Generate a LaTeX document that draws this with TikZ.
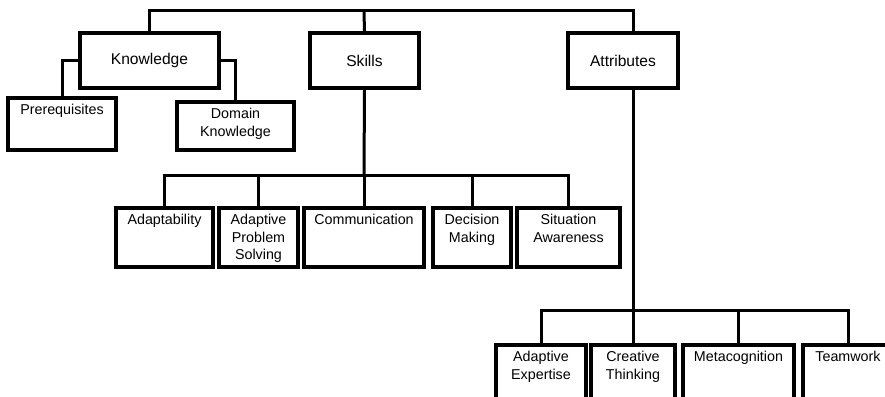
\documentclass[tikz,border=0pt]{standalone}
\usepackage{fontspec}
\setmainfont{Liberation Sans}
\begin{document}
\begin{tikzpicture}[x=1pt, y=-1pt,
  cell/.style={draw, line width=3.8pt, outer sep=0pt, inner sep=0pt, anchor=north west},
  head/.style={cell, minimum height=55pt, font=\fontsize{15.6}{18}\selectfont},
  tag/.style={anchor=north, align=center, inner sep=0pt, yshift=-6pt, font=\fontsize{14.3}{17.5}\selectfont},
  link/.style={line width=3pt}]
\fill[white, use as bounding box] (0,0) rectangle (885,396);
\clip (0,0) rectangle (885,396);

% top level
\node[head, minimum width=139pt] (kno) at (80,33) {Knowledge};
\node[head, minimum width=109pt] (skl) at (310,33) {Skills};
\node[head, minimum width=110pt] (att) at (568,33) {Attributes};

% knowledge
\node[cell, minimum width=108pt, minimum height=52pt, label={[tag]north:Prerequisites}] (prq) at (8,98) {};
\node[cell, minimum width=117pt, minimum height=48pt, label={[tag]north:Domain\\Knowledge}] (dom) at (177,102) {};

% skills
\node[cell, minimum width=97pt, minimum height=59pt, label={[tag]north:Adaptability}] (ada) at (116,208) {};
\node[cell, minimum width=79pt, minimum height=59pt, label={[tag]north:Adaptive\\Problem\\Solving}] (aps) at (219,208) {};
\node[cell, minimum width=120pt, minimum height=59pt, label={[tag]north:Communication}] (com) at (304,208) {};
\node[cell, minimum width=78pt, minimum height=59pt, label={[tag]north:Decision\\Making}] (dec) at (433,208) {};
\node[cell, minimum width=103pt, minimum height=59pt, label={[tag]north:Situation\\Awareness}] (sit) at (517,208) {};

% attributes
\node[cell, minimum width=90pt, minimum height=70pt, label={[tag]north:Adaptive\\Expertise}] (aex) at (496,345) {};
\node[cell, minimum width=84pt, minimum height=70pt, label={[tag]north:Creative\\Thinking}] (cth) at (591,345) {};
\node[cell, minimum width=111pt, minimum height=70pt, label={[tag]north:Metacognition}] (met) at (683,345) {};
\node[cell, minimum width=90pt, minimum height=70pt, label={[tag]north:Teamwork}] (tmw) at (803,345) {};

\coordinate (hub) at (364,11);
\coordinate (sbar) at (364,175);
\coordinate (abar) at (633,310);

\draw[link] (kno.north) |- (hub) -| (att.north -| abar);
\draw[link] (skl.north) -- (hub);
\draw[link] (kno.west) -| (prq.north);
\draw[link] (kno.east) -| (dom.north);

\draw[link] (skl.south) -- (sbar);
\foreach \c in {ada,aps,com,dec,sit}
\draw[link] (sbar) -| (\c.north);

\draw[link] (att.south -| abar) -- (abar);
\foreach \c in {aex,cth,met,tmw}
\draw[link] (abar) -| (\c.north);

\end{tikzpicture}
\end{document}
